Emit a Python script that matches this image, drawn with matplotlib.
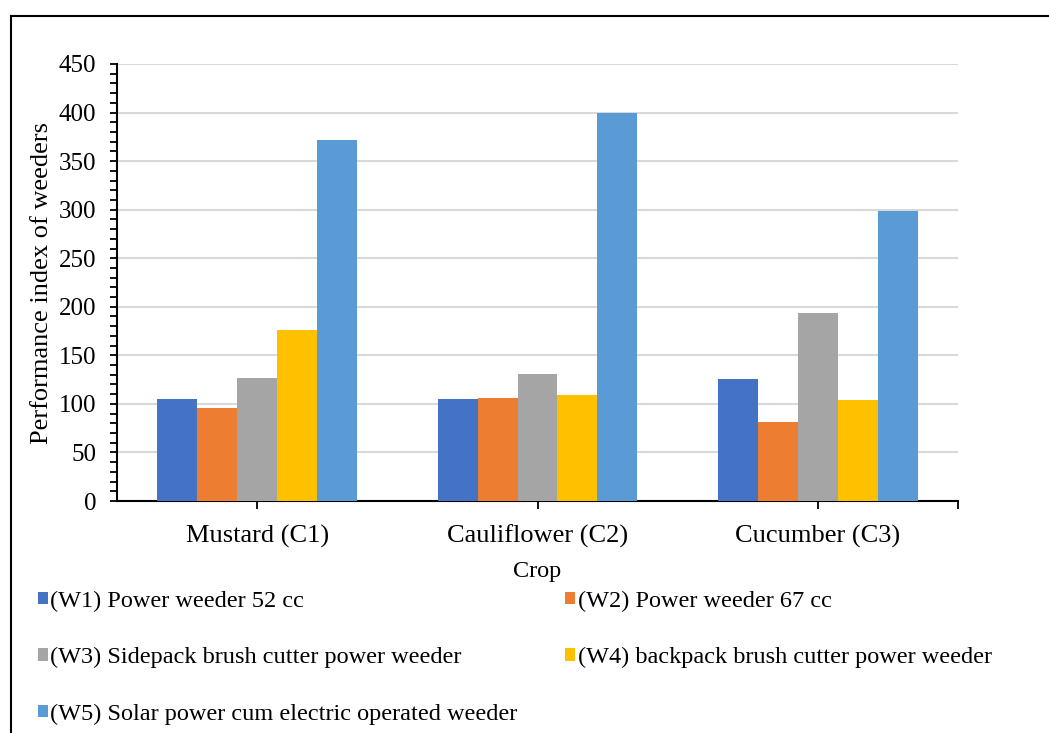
import matplotlib.pyplot as plt
import numpy as np
from matplotlib.lines import Line2D

plt.rcParams['font.family'] = ['Liberation Serif', 'DejaVu Serif']

crops = ['Mustard (C1)', 'Cauliflower (C2)', 'Cucumber (C3)']
weeders = ['(W1) Power weeder 52 cc',
           '(W2) Power weeder 67 cc',
           '(W3) Sidepack brush cutter power weeder',
           '(W4) backpack brush cutter power weeder',
           '(W5) Solar power cum electric operated weeder']
colors = ['#4472c4', '#ed7d31', '#a5a5a5', '#ffc000', '#5b9bd5']

w1 = [105, 105, 126]
w2 = [96, 106, 81]
w3 = [127, 131, 194]
w4 = [176, 109, 104]
w5 = [372, 400, 299]
series = [w1, w2, w3, w4, w5]

fig = plt.figure(figsize=(10.49, 7.33), dpi=100)
ax = fig.add_axes([117 / 1049, 1 - 501 / 733, (958 - 117) / 1049, (501 - 64) / 733])

x = np.arange(len(crops))
bw = 0.1425
bars = []
for i, (vals, c) in enumerate(zip(series, colors)):
    b = ax.bar(x + (i - 2) * bw, vals, bw, color=c, zorder=3)
    bars.append(b)

ax.set_xlim(-0.5, 2.5)
ax.set_ylim(0, 450)
ax.set_yticks(np.arange(0, 451, 50))
ax.set_yticks(np.arange(0, 451, 10), minor=True)
ax.grid(axis='y', color='#d9d9d9', lw=1.5, zorder=0)
ax.set_xticks(x)
ax.set_xticklabels(crops, fontsize=19)
ax.set_xticks([2.5], minor=True)
ax.tick_params(axis='x', which='both', length=6, width=1.3, pad=11)
ax.tick_params(axis='y', which='both', length=5, width=1.3, labelsize=18, pad=10)
for s in ['top', 'right']:
    ax.spines[s].set_visible(False)
for s in ['left', 'bottom']:
    ax.spines[s].set_linewidth(1.5)

ax.set_ylabel('Performance index of weeders', fontsize=19, labelpad=4)
ax.set_xlabel('Crop', fontsize=17.5, labelpad=9)

# legend, filled column by column
order = [0, 2, 4, 1, 3]
handles = [bars[k] for k in order]
labels = [weeders[k] for k in order]
fig.legend(handles, labels, loc='upper left', bbox_to_anchor=(28 / 1049, 1 - 581 / 733),
           ncol=2, frameon=False, fontsize=17.5, handlelength=0.42, handleheight=0.42,
           handletextpad=0.1, labelspacing=1.45, columnspacing=1.95, borderaxespad=0)

# outer frame (top and left edges)
fig.add_artist(Line2D([11 / 1049, 11 / 1049], [0, 1 - 16 / 733], transform=fig.transFigure,
                      color='black', lw=1.5))
fig.add_artist(Line2D([11 / 1049, 1], [1 - 16 / 733, 1 - 16 / 733], transform=fig.transFigure,
                      color='black', lw=1.5))

fig.savefig('out.png', dpi=100)
